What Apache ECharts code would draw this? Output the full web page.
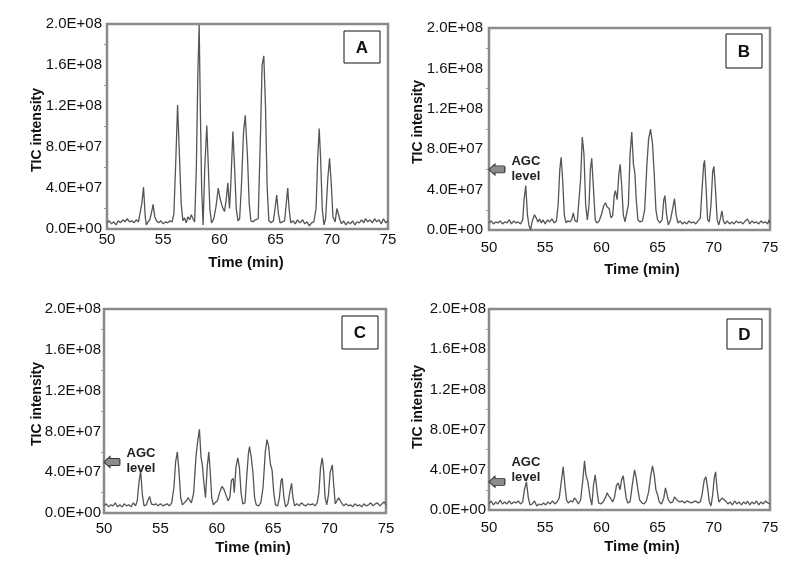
<!DOCTYPE html>
<html>
<head>
<meta charset="utf-8">
<script src="https://cdn.jsdelivr.net/npm/echarts@6/dist/echarts.min.js"></script>
<style>html,body{margin:0;padding:0;background:#fff}#c{width:800px;height:569px}</style>
</head>
<body>
<div id="c"></div>
<script>
// Intensity values in units of 1E+06
const panelLetters = ['A', 'B', 'C', 'D'];
const xTicks = [50, 55, 60, 65, 70, 75];
const yTickLabels = ['0.0E+00', '4.0E+07', '8.0E+07', '1.2E+08', '1.6E+08', '2.0E+08'];
const agcLevels = [null, 60, 50, 28]; // AGC level marker (1E+06) per panel

const seriesA = [[50.0,6],[50.2,8],[50.4,5],[50.6,7],[50.8,4],[51.0,8],[51.2,6],[51.4,9],[51.6,7],[51.8,10],[52.0,7],[52.2,8],[52.4,6],[52.6,9],[52.8,7],[52.95,8],[53.1,25],[53.25,41],[53.4,12],[53.5,4],[53.65,7],[53.8,9],[54.0,18],[54.1,24],[54.25,12],[54.4,8],[54.6,6],[54.8,8],[55.0,5],[55.2,7],[55.4,6],[55.6,8],[55.8,7],[55.95,15],[56.1,60],[56.28,121],[56.45,70],[56.6,25],[56.75,8],[56.9,11],[57.05,6],[57.2,12],[57.35,9],[57.5,14],[57.65,10],[57.8,7],[57.95,60],[58.08,150],[58.2,199],[58.3,120],[58.42,40],[58.55,4],[58.7,60],[58.88,101],[59.0,65],[59.15,20],[59.3,6],[59.5,10],[59.7,22],[59.9,40],[60.05,30],[60.25,22],[60.45,17],[60.6,28],[60.75,45],[60.9,20],[61.0,40],[61.2,95],[61.35,60],[61.5,20],[61.65,8],[61.8,10],[61.95,40],[62.15,95],[62.3,111],[62.5,70],[62.65,25],[62.8,8],[63.0,7],[63.2,9],[63.45,10],[63.65,90],[63.8,160],[63.95,169],[64.1,120],[64.25,40],[64.4,8],[64.6,6],[64.8,8],[64.95,20],[65.1,33],[65.25,15],[65.4,6],[65.6,7],[65.8,8],[65.95,25],[66.08,40],[66.2,20],[66.35,6],[66.55,8],[66.75,5],[66.95,9],[67.15,6],[67.4,9],[67.6,5],[67.8,7],[68.0,3],[68.2,6],[68.4,7],[68.6,20],[68.75,70],[68.88,98],[69.0,70],[69.15,20],[69.3,4],[69.45,10],[69.65,50],[69.8,69],[69.95,45],[70.1,12],[70.3,7],[70.45,20],[70.55,21],[70.7,10],[70.85,5],[71.05,8],[71.25,4],[71.45,7],[71.65,5],[71.85,8],[72.05,4],[72.25,7],[72.45,6],[72.65,9],[72.85,6],[73.0,10],[73.2,7],[73.4,9],[73.6,6],[73.8,10],[74.0,7],[74.2,9],[74.4,5],[74.6,10],[74.8,6],[75.0,8]];

const seriesB = [[50.0,7],[50.2,9],[50.4,6],[50.6,8],[50.8,7],[51.0,9],[51.2,6],[51.4,8],[51.6,7],[51.8,10],[52.0,6],[52.2,9],[52.4,7],[52.6,8],[52.8,6],[53.0,10],[53.12,30],[53.27,44],[53.42,15],[53.55,5],[53.7,0],[53.85,9],[54.05,15],[54.2,12],[54.35,8],[54.5,11],[54.65,7],[54.8,10],[55.0,6],[55.2,10],[55.4,8],[55.6,11],[55.8,7],[56.0,9],[56.15,25],[56.3,60],[56.42,72],[56.55,50],[56.7,15],[56.85,7],[57.0,9],[57.2,8],[57.35,10],[57.5,17],[57.65,9],[57.85,8],[58.0,9],[58.15,50],[58.3,92],[58.45,75],[58.6,25],[58.75,10],[58.9,25],[59.02,60],[59.14,71],[59.3,40],[59.45,10],[59.6,7],[59.8,9],[60.0,15],[60.2,24],[60.36,27],[60.5,23],[60.7,21],[60.85,12],[61.0,14],[61.15,35],[61.25,39],[61.4,30],[61.55,55],[61.67,65],[61.8,45],[61.95,15],[62.1,8],[62.25,9],[62.4,25],[62.55,75],[62.7,97],[62.85,65],[62.98,56],[63.1,30],[63.25,10],[63.45,8],[63.65,9],[63.85,20],[64.05,65],[64.2,90],[64.37,100],[64.55,85],[64.7,55],[64.85,20],[65.0,10],[65.2,7],[65.4,10],[65.55,30],[65.65,34],[65.8,15],[65.95,5],[66.15,10],[66.35,22],[66.5,31],[66.65,15],[66.8,7],[67.0,9],[67.2,6],[67.4,8],[67.6,6],[67.8,9],[68.0,7],[68.2,8],[68.4,6],[68.6,9],[68.8,12],[68.95,40],[69.1,65],[69.18,69],[69.3,45],[69.45,10],[69.6,8],[69.75,25],[69.9,58],[70.01,63],[70.15,40],[70.3,10],[70.45,5],[70.6,12],[70.72,19],[70.85,9],[71.0,6],[71.2,9],[71.4,6],[71.6,8],[71.8,6],[72.0,9],[72.2,7],[72.4,8],[72.6,6],[72.8,9],[73.0,11],[73.2,6],[73.4,9],[73.6,7],[73.8,8],[74.0,6],[74.2,9],[74.4,7],[74.6,8],[74.8,6],[74.9,10],[75.0,7]];

const seriesC = [[50.0,7],[50.2,9],[50.4,6],[50.6,8],[50.8,7],[51.0,10],[51.2,6],[51.4,8],[51.6,6],[51.8,9],[52.0,7],[52.2,8],[52.4,6],[52.6,10],[52.8,7],[52.95,12],[53.1,30],[53.25,41],[53.4,18],[53.55,7],[53.75,8],[53.95,14],[54.05,16],[54.2,9],[54.4,8],[54.6,9],[54.8,7],[55.0,9],[55.2,7],[55.4,8],[55.6,9],[55.8,7],[56.0,10],[56.2,25],[56.35,50],[56.5,60],[56.62,45],[56.8,15],[56.95,8],[57.1,9],[57.3,12],[57.45,15],[57.6,16],[57.75,10],[57.95,20],[58.15,55],[58.3,70],[58.46,82],[58.6,55],[58.73,46],[58.85,30],[59.0,15],[59.15,45],[59.29,60],[59.42,40],[59.55,15],[59.7,8],[59.85,10],[60.05,12],[60.25,20],[60.45,26],[60.6,24],[60.8,18],[61.0,12],[61.15,15],[61.3,32],[61.45,34],[61.55,20],[61.7,45],[61.86,54],[62.0,45],[62.15,20],[62.3,9],[62.5,10],[62.65,35],[62.8,58],[62.9,65],[63.05,55],[63.2,40],[63.35,15],[63.5,8],[63.7,7],[63.9,10],[64.1,25],[64.3,60],[64.45,72],[64.6,65],[64.75,48],[64.9,42],[65.05,20],[65.2,8],[65.4,7],[65.55,15],[65.7,32],[65.8,34],[65.95,15],[66.1,6],[66.3,9],[66.5,22],[66.63,29],[66.75,15],[66.9,7],[67.1,9],[67.3,7],[67.5,10],[67.7,8],[67.9,7],[68.1,9],[68.3,8],[68.5,9],[68.7,7],[68.9,10],[69.05,20],[69.2,45],[69.35,54],[69.48,40],[69.6,15],[69.75,8],[69.9,18],[70.05,40],[70.24,47],[70.38,25],[70.5,9],[70.65,10],[70.8,15],[70.9,16],[71.05,10],[71.25,7],[71.45,9],[71.65,7],[71.85,8],[72.05,6],[72.25,9],[72.45,7],[72.65,8],[72.85,6],[73.05,9],[73.25,7],[73.45,8],[73.65,10],[73.85,7],[74.05,9],[74.25,10],[74.45,7],[74.65,9],[74.85,11],[75.0,8]];

const seriesD = [[50.0,6],[50.2,9],[50.4,5],[50.6,8],[50.8,6],[51.0,10],[51.2,6],[51.4,8],[51.6,6],[51.8,9],[52.0,6],[52.2,8],[52.4,7],[52.6,9],[52.8,6],[53.0,8],[53.15,20],[53.33,28],[53.5,12],[53.65,5],[53.85,6],[54.05,9],[54.25,4],[54.45,6],[54.65,5],[54.85,7],[55.05,5],[55.25,8],[55.45,6],[55.65,9],[55.85,6],[56.05,8],[56.25,12],[56.45,30],[56.6,43],[56.75,25],[56.9,10],[57.05,7],[57.25,9],[57.45,8],[57.6,12],[57.75,10],[57.95,6],[58.15,10],[58.35,30],[58.5,49],[58.62,35],[58.8,28],[58.9,29],[59.0,12],[59.15,5],[59.3,25],[59.45,35],[59.6,20],[59.75,7],[59.95,6],[60.15,8],[60.35,12],[60.5,17],[60.65,14],[60.8,12],[61.0,8],[61.15,12],[61.35,25],[61.5,27],[61.65,20],[61.8,30],[61.94,34],[62.05,25],[62.2,12],[62.35,7],[62.55,8],[62.75,25],[62.95,40],[63.1,32],[63.25,20],[63.4,10],[63.6,7],[63.8,6],[64.0,9],[64.2,18],[64.4,35],[64.55,44],[64.7,35],[64.85,20],[65.0,15],[65.15,8],[65.35,6],[65.55,12],[65.7,22],[65.8,21],[65.95,10],[66.15,7],[66.35,8],[66.5,13],[66.65,12],[66.8,9],[67.0,8],[67.2,9],[67.4,7],[67.6,9],[67.8,8],[68.0,7],[68.2,8],[68.4,9],[68.6,7],[68.8,8],[68.95,15],[69.15,30],[69.3,33],[69.45,22],[69.6,8],[69.75,4],[69.9,15],[70.05,33],[70.16,38],[70.3,20],[70.45,8],[70.6,7],[70.75,12],[70.9,13],[71.05,9],[71.25,6],[71.45,8],[71.65,5],[71.85,9],[72.05,6],[72.25,8],[72.45,5],[72.65,8],[72.85,6],[73.0,9],[73.2,5],[73.4,8],[73.6,6],[73.8,9],[74.0,5],[74.2,8],[74.4,6],[74.6,9],[74.8,7],[75.0,6]];

const allSeries = [seriesA, seriesB, seriesC, seriesD];

// layout
const grids = [
  {left: 107, top: 24, width: 281, height: 205},
  {left: 489, top: 28, width: 281, height: 202},
  {left: 104, top: 309, width: 282, height: 204},
  {left: 489, top: 309, width: 281, height: 201}
];
const xLabelMargin = [3, 10, 8, 10];
const yLabelMargin = [5, 6, 3, 3];
const xTitlePos = [[246, 263], [642, 270], [253, 548], [642, 547]];
const yTitlePos = [[37, 130], [418, 122], [37, 404], [418, 407]];
const letterBox = [[344, 31, 36, 32], [726, 34, 36, 34], [342, 316, 36, 33], [727, 319, 35, 30]];
const agcLabelShift = [0, 0, -1, -12];

const FONT = '"Liberation Sans", Arial, sans-serif';
const arrowPath = 'path://M0,5 L6,0 L6,1.8 L15,1.8 Q16,1.8 16,3 L16,7 Q16,8.2 15,8.2 L6,8.2 L6,10 Z';

const option = {
  backgroundColor: '#fff',
  animation: false,
  grid: grids.map(g => Object.assign({show: true, borderColor: '#8a8a8a', borderWidth: 2.5, backgroundColor: '#fff'}, g)),
  xAxis: grids.map((g, i) => ({
    type: 'value', gridIndex: i, min: 50, max: 75, interval: 5,
    axisLine: {show: false}, axisTick: {show: false}, splitLine: {show: false},
    axisLabel: {color: '#111', fontFamily: FONT, fontSize: 15, margin: xLabelMargin[i]}
  })),
  yAxis: grids.map((g, i) => ({
    type: 'value', gridIndex: i, min: 0, max: 200, interval: 40,
    axisLine: {show: false}, splitLine: {show: false},
    axisTick: {show: false},
    minorTick: {show: true, splitNumber: 2, length: 3, lineStyle: {color: '#999'}},
    axisLabel: {color: '#111', fontFamily: FONT, fontSize: 15, margin: yLabelMargin[i],
      formatter: v => yTickLabels[Math.round(v / 40)]}
  })),
  series: allSeries.map((data, i) => {
    const s = {
      type: 'line', xAxisIndex: i, yAxisIndex: i, data: data,
      showSymbol: false, symbol: 'none', silent: true,
      lineStyle: {color: '#555', width: 1.3}
    };
    if (agcLevels[i] != null) {
      s.markPoint = {
        silent: true,
        data: [{coord: [50.7, agcLevels[i]]}],
        symbol: arrowPath, symbolSize: [16, 11], symbolKeepAspect: false,
        itemStyle: {color: '#8c8c8c', borderColor: '#333', borderWidth: 1},
        label: {show: true, position: 'right', distance: 6, offset: [0, agcLabelShift[i]], formatter: 'AGC\nlevel',
          color: '#222', fontFamily: FONT, fontSize: 13, fontWeight: 'bold', lineHeight: 15, align: 'left'}
      };
    }
    return s;
  }),
  graphic: [].concat(
    xTitlePos.map(p => ({type: 'text', x: p[0], y: p[1],
      style: {text: 'Time (min)', font: 'bold 15px ' + FONT, fill: '#111', align: 'center', verticalAlign: 'middle'}})),
    yTitlePos.map(p => ({type: 'text', x: p[0], y: p[1], rotation: Math.PI / 2,
      style: {text: 'TIC intensity', font: 'bold 14px ' + FONT, fill: '#111', align: 'center', verticalAlign: 'middle'}})),
    letterBox.map((b, i) => ({type: 'group', children: [
      {type: 'rect', shape: {x: b[0], y: b[1], width: b[2], height: b[3]}, style: {fill: '#fff', stroke: '#111', lineWidth: 1}},
      {type: 'text', x: b[0] + b[2] / 2, y: b[1] + b[3] / 2 + 1,
        style: {text: panelLetters[i], font: 'bold 17px ' + FONT, fill: '#111', align: 'center', verticalAlign: 'middle'}}
    ]}))
  )
};

const chart = echarts.init(document.getElementById('c'), null, {renderer: 'canvas'});
chart.setOption(option);
</script>
</body>
</html>
